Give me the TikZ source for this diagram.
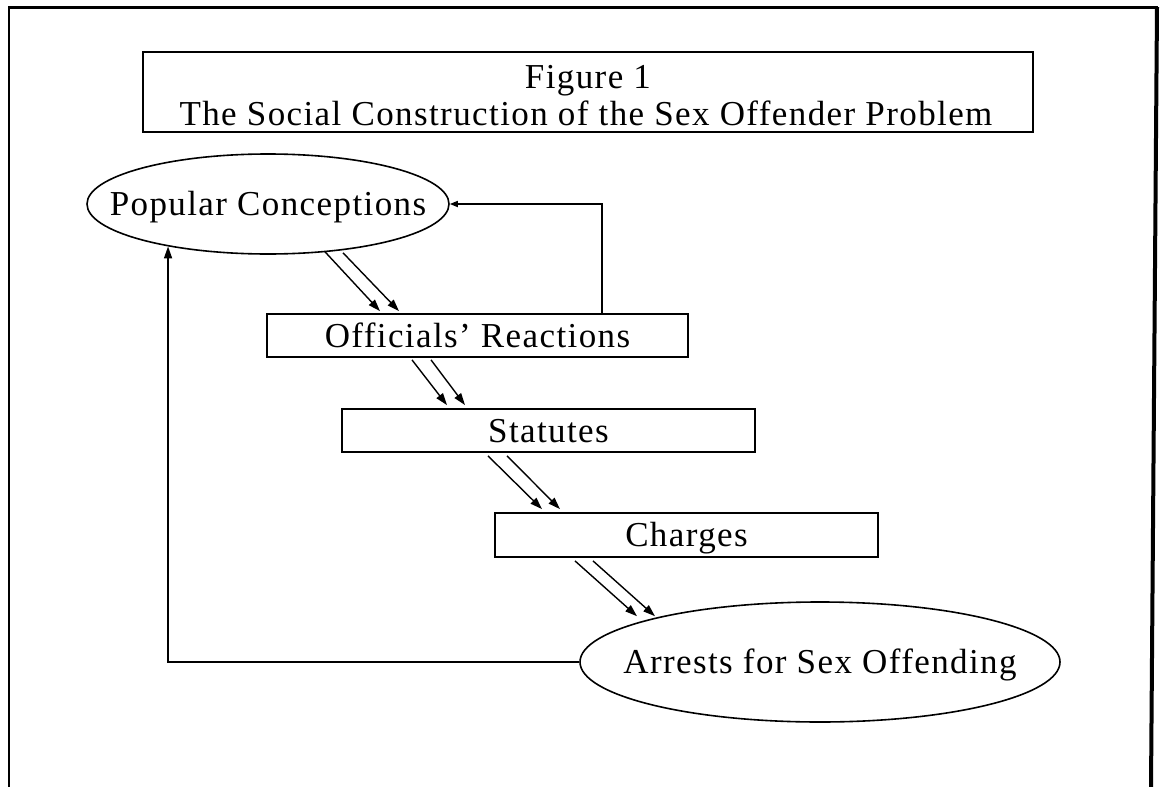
\documentclass[tikz,border=0pt]{standalone}
\usepackage{fontspec}
\setmainfont{Liberation Serif}[LetterSpace=4]
\usetikzlibrary{arrows.meta,shapes.geometric,calc}
\begin{document}
\begin{tikzpicture}[x=1pt,y=-1pt,
  lbl/.style={font=\fontsize{35}{42}\selectfont, text height=23pt, text depth=0pt, inner sep=0pt},
  boxnode/.style={lbl, draw, line width=1.8pt, rectangle},
  ellnode/.style={draw, line width=1.6pt, ellipse, inner sep=0pt},
  flow/.style={line width=1.4pt, -{Triangle[length=12pt,width=8pt]}},
  feed/.style={line width=1.6pt, -{Triangle[length=12pt,width=8pt]}},
  feedsmall/.style={line width=1.6pt, -{Triangle[length=8pt,width=6pt]}},
  framebar/.style={line width=3pt}]
\useasboundingbox (0,0) rectangle (1160,787);
% frame
\draw[framebar] (8,7) -- (1158,7);
\draw[line width=2.5pt] (9,7) -- (9,787);
\draw[line width=4pt] (1157,7) -- (1151,787);
% title
\node[draw, line width=1.8pt, minimum width=890pt, minimum height=80pt, inner sep=0pt] (tb) at (588,92) {};
\node[lbl, anchor=base] (t1) at (588,88) {Figure 1};
\node[lbl, anchor=base] (t2) at (586,125) {The Social Construction of the Sex Offender Problem};
% nodes
\node[ellnode, minimum width=362pt, minimum height=100pt] (pc) at (268,204) {};
\node[lbl] (pct) at (268,204) {Popular Conceptions};
\node[boxnode, minimum width=421pt, minimum height=43pt] (off) at (477.5,335.5) {Officials’ Reactions};
\node[boxnode, minimum width=413pt, minimum height=43pt] (sta) at (548.5,430.5) {Statutes};
\node[boxnode, minimum width=383pt, minimum height=44pt] (cha) at (686.5,535) {Charges};
\node[ellnode, minimum width=480pt, minimum height=120pt] (arr) at (820,662) {};
\node[lbl] (arrt) at (820,662) {Arrests for Sex Offending};
% double arrows
\draw[flow] ($(pc.south)+(57,-3)$) -- ($(off.north)+(-97.5,-2)$);
\draw[flow] ($(pc.south)+(75,-2)$) -- ($(off.north)+(-78.5,-2)$);
\draw[flow] ($(off.south)+(-65.5,2)$) -- ($(sta.north)+(-101.5,-3)$);
\draw[flow] ($(off.south)+(-46.5,2)$) -- ($(sta.north)+(-83.5,-3)$);
\draw[flow] ($(sta.south)+(-60.5,3)$) -- ($(cha.north)+(-144.5,-3)$);
\draw[flow] ($(sta.south)+(-41.5,3)$) -- ($(cha.north)+(-126.5,-3)$);
\draw[flow] ($(cha.south)+(-111.5,3)$) -- ($(arr.north)+(-183,15)$);
\draw[flow] ($(cha.south)+(-93.5,3)$) -- ($(arr.north)+(-165,15)$);
% feedback loops
\draw[feedsmall] ($(off.north)+(124.5,0)$) |- (pc.east);
\draw[feed] (arr.west) -| (pc.203);
\end{tikzpicture}
\end{document}
